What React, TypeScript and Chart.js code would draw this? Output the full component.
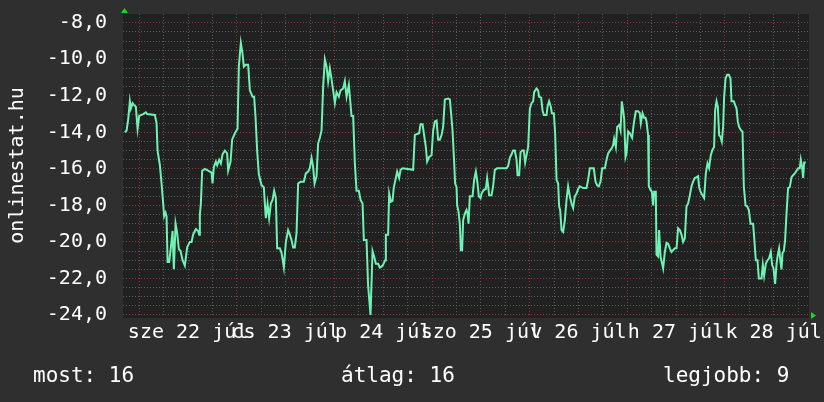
import React, { useEffect, useRef } from 'react';
import { Chart, registerables } from 'chart.js';

Chart.register(...registerables);

// ---- data (hours since 22 Jul 00:00) ----
const dayNames = ['sze', 'cs', 'p', 'szo', 'v', 'h', 'k'];
const dayNumbers = [22, 23, 24, 25, 26, 27, 28];
const monthName = 'júl';
const axisTitle = 'onlinestat.hu';

const hours = [
  -3.54, -3.12, -2.73, -2.31, -2.07, -1.65, -1.33, -0.84, -0.42, -0.02,
  0.96, 1.62, 1.94, 3.84, 4.25, 4.5, 5.07, 5.48, 5.88, 6.12,
  6.47, 6.71, 6.96, 7.35, 7.77, 8.19, 8.51, 8.93, 9.32, 9.74,
  10.16, 10.65, 11.21, 11.78, 12.44, 12.86, 13.25, 13.92, 14.48, 14.73,
  14.9, 15.15, 15.47, 16.13, 16.94, 17.36, 17.78, 18.02, 18.34, 18.84,
  19.16, 19.65, 20.07, 20.48, 21.05, 21.61, 21.86, 22.45, 22.84, 23.51,
  24.17, 24.49, 24.98, 25.4, 25.72, 26.21, 26.78, 27.2, 27.86, 28.25,
  28.6, 28.99, 29.41, 30.07, 30.64, 30.88, 31.13, 31.55, 31.94, 32.36,
  32.78, 33.17, 33.59, 33.91, 34.57, 34.99, 35.56, 36.05, 36.61, 37.03,
  37.45, 37.84, 38.26, 38.68, 39.07, 39.66, 40.47, 40.96, 41.53, 41.95,
  42.37, 42.76, 43.11, 43.6, 43.99, 44.41, 44.83, 45.22, 45.64, 46.06,
  46.45, 46.87, 47.29, 47.68, 48.1, 48.52, 49.08, 49.5, 50.14, 50.56,
  50.98, 51.54, 51.79, 52.2, 52.6, 53.02, 53.43, 54.0, 54.42, 54.91,
  55.23, 55.89, 56.28, 56.87, 57.36, 57.76, 58.18, 58.74, 59.16, 59.58,
  59.97, 60.47,
  60.64, 61.2, 61.45, 61.87, 62.28, 62.6, 63.1, 63.42, 63.91, 64.26,
  64.74, 67.35, 67.77, 68.83, 69.17, 69.66, 69.98, 70.47, 70.79, 71.29,
  71.88, 72.27, 72.69, 73.11, 73.5, 73.92, 74.34, 74.73, 75.15, 75.96,
  76.38, 76.62, 77.04, 77.36, 77.68, 78.03, 78.17, 78.52, 78.83, 79.08,
  79.4, 79.65, 80.06, 80.48, 80.73, 80.97, 81.29, 81.96, 82.35, 82.77,
  83.19, 83.51, 83.93, 84.17, 84.74, 85.23, 85.55, 85.8, 86.04, 86.63,
  87.02, 87.44, 88.0, 90.32, 90.71, 91.13, 91.55, 91.94, 92.36, 92.78,
  93.02, 93.42, 93.76, 94.15, 94.57, 94.89, 95.24, 95.63, 96.05, 96.47,
  96.86, 97.11, 97.69, 98.08, 98.33, 98.83, 99.17, 99.49, 100.15, 100.4,
  100.79, 101.21, 101.46, 101.95, 102.27, 102.62, 103.01, 103.25, 103.5, 103.85,
  104.24, 104.66, 105.07, 105.46, 105.88, 106.3, 106.69, 107.11, 107.53, 107.92,
  108.34,
  109.15, 109.99, 110.38, 110.8, 111.78, 112.2, 112.6, 113.02, 113.43, 113.83,
  114.49, 114.91, 115.3, 115.72, 116.14, 116.53, 116.78, 117.2, 117.52, 118.01,
  118.36, 118.67, 118.99, 119.24, 119.58, 119.83, 120.22, 120.64, 121.2, 121.62,
  122.11, 122.68, 123.1, 123.34, 123.76, 124.15, 124.5, 124.74, 125.13, 125.31,
  125.73, 126.05, 126.37, 126.62, 127.03, 127.2, 127.59, 127.84, 128.19, 128.44,
  128.83, 129.25, 129.67, 130.06, 130.48, 130.9, 131.7, 132.12, 132.51, 132.93,
  133.35, 133.74, 134.16, 134.58, 134.97, 135.39, 135.81, 136.2, 136.62, 137.04,
  137.43, 137.68, 138.02, 138.51, 138.91, 139.33, 139.74, 140.13, 140.55, 140.97,
  141.36, 141.61, 141.96, 142.28, 142.6, 142.95, 143.26, 143.58, 143.83, 144.18,
  144.57, 144.98, 145.4, 145.64, 146.21, 146.53, 146.88, 147.19, 147.51, 148.01,
  148.35, 148.67, 149.09, 149.48, 149.9, 150.32, 150.96, 151.2, 151.62, 152.04,
  152.36, 153.02, 153.34, 153.66, 154.08, 154.5, 154.89, 155.31, 155.63, 155.98,
  156.37, 156.72, 157.03, 157.35, 157.7, 157.94, 158.19, 158.51, 158.82, 159.17,
  159.56, 159.98, 160.4, 160.79, 161.21, 161.63, 162.02, 162.44, 162.68, 163.0,
  163.25, 163.5, 163.92,
];

const values = [
  -14.0, -13.9, -13.3, -12.3, -12.7, -12.4, -12.5, -12.6, -13.8, -13.1,
  -13.0, -12.9, -13.0, -13.05, -13.5, -15.0, -15.8, -16.8, -17.9, -18.6,
  -18.4, -18.6, -21.1, -21.1, -20.3, -19.4, -21.5, -19.0, -19.5, -20.4,
  -20.5, -21.0, -21.3, -20.3, -20.0, -20.0, -19.6, -19.3, -19.4, -19.6,
  -18.5, -17.9, -16.1, -16.0, -16.1, -16.15, -16.2, -16.8, -15.9, -15.6,
  -15.8, -15.5, -15.7, -15.2, -15.0, -15.15, -16.1, -15.6, -14.4, -14.05,
  -13.8, -10.4, -9.1, -9.7, -10.4, -10.3, -10.3, -11.7, -12.05, -12.05,
  -13.2, -15.0, -16.3, -16.9, -17.0, -17.9, -18.7, -17.9, -18.7, -17.9,
  -17.7, -17.2, -17.6, -20.35, -20.35, -20.6, -21.4, -20.0, -19.35, -19.6,
  -19.9, -20.3, -20.3, -19.5, -16.8, -16.7, -16.7, -16.25, -16.15, -15.95,
  -15.4, -15.9, -16.8, -16.4, -14.6, -14.3, -13.9, -11.5, -10.0, -10.4,
  -11.2, -10.5, -11.1, -11.7, -12.4, -11.8, -12.05, -11.7, -11.6, -11.2,
  -12.05, -11.4, -12.05, -13.1, -13.1, -15.7, -17.2, -17.2, -17.7, -17.9,
  -19.9, -19.9, -22.4, -24.0, -20.5, -20.8, -21.2, -21.2, -21.4, -21.35,
  -21.25, -21.0,
  -19.6, -19.6, -17.35, -17.8, -17.75, -17.0, -16.5, -16.15, -16.5, -16.05,
  -15.97, -16.05, -14.14, -14.05, -13.55, -13.55, -14.05, -14.8, -15.6, -15.35,
  -15.25, -13.9, -13.4, -13.35, -14.4, -14.4, -14.15, -13.7, -12.2, -12.15,
  -12.2, -12.8, -13.9, -15.3, -16.8, -17.0, -18.0, -18.35, -19.0, -20.45,
  -20.45, -18.8, -18.45, -18.25, -18.45, -19.0, -17.5, -17.5, -16.6, -16.15,
  -16.8, -17.5, -17.6, -17.35, -17.15, -17.1, -16.5, -16.95, -17.45, -17.45,
  -16.95, -16.05, -15.97, -15.97, -15.85, -15.4, -15.2, -15.0, -15.0, -15.5,
  -16.35, -16.35, -15.1, -15.0, -15.0, -15.65, -15.25, -14.8, -12.7, -12.4,
  -12.3, -11.8, -11.6, -11.7, -12.05, -12.1, -12.8, -13.05, -13.05, -12.6,
  -12.3, -12.6, -12.95, -12.95, -14.05, -16.6, -16.8, -18.05, -18.25, -19.35,
  -19.45, -18.8, -17.7, -16.95, -17.5, -17.9, -18.15, -17.5, -17.35, -17.1,
  -16.95,
  -17.05, -17.05, -16.6, -15.97, -15.97, -16.7, -16.9, -16.95, -16.7, -15.97,
  -15.97, -15.5, -15.15, -15.0, -14.9, -14.7, -14.35, -14.8, -13.7, -13.6,
  -13.9, -12.3, -12.8, -13.25, -15.35, -15.15, -13.95, -14.05, -14.3, -13.5,
  -12.85, -12.85, -12.95, -13.5, -12.95, -13.2, -13.2, -13.4, -14.15, -16.95,
  -17.15, -17.25, -18.0, -17.25, -17.25, -20.7, -20.8, -19.35, -20.8, -21.05,
  -21.45, -20.55, -20.05, -20.1, -20.35, -20.55, -20.35, -20.35, -19.25, -19.35,
  -19.6, -20.0, -19.8, -18.05, -17.9, -17.45, -16.95, -16.7, -16.5, -16.45,
  -16.4, -17.0, -17.25, -17.45, -17.6, -16.25, -15.7, -15.95, -15.25, -14.95,
  -14.8, -12.8, -12.3, -12.6, -14.15, -14.25, -14.5, -13.7, -12.05, -11.05,
  -10.85, -10.85, -11.05, -12.3, -12.3, -12.5, -12.7, -13.4, -13.7, -13.9,
  -13.95, -16.95, -18.0, -18.05, -18.25, -19.0, -19.0, -19.7, -21.0, -21.0,
  -22.0, -22.0, -21.25, -21.85, -21.2, -21.0, -20.9, -20.55, -21.25, -21.45,
  -22.3, -21.2, -20.7, -20.35, -21.1, -21.5, -20.6, -20.5, -19.9, -18.45,
  -17.05, -17.0, -16.45, -16.35, -16.25, -16.1, -15.97, -15.97, -15.5, -15.9,
  -16.5, -15.65, -15.65,
];

const legendLabels = ['most', 'átlag', 'legjobb'];
const legendValues = [16, 16, 9];

// ---- styling ----
const FONT = "'DejaVu Sans Mono', monospace";
const RED = '#8a3a3a';
const GREY = '#5a5a5a';
const LINE = '#6ff2b4';
const ARROW = '#22d422';

const decorations = {
  id: 'decorations',
  beforeDraw(chart: any) {
    const { ctx, chartArea } = chart;
    const { left, top, right, bottom } = chartArea;
    ctx.save();
    ctx.fillStyle = '#212121';
    ctx.fillRect(left, top, right - left, bottom - top + 1);
    ctx.restore();
  },
  afterDraw(chart: any) {
    const { ctx, chartArea, scales } = chart;
    const { left, top, right } = chartArea;
    const y0 = Math.round(scales.y.getPixelForValue(-24)) + 0.5;
    ctx.save();
    ctx.fillStyle = ARROW;
    ctx.beginPath();
    ctx.moveTo(left - 2, top - 1);
    ctx.lineTo(left + 5, top - 1);
    ctx.lineTo(left + 1.5, top - 6);
    ctx.closePath();
    ctx.fill();
    ctx.beginPath();
    ctx.moveTo(right + 2, y0 - 3.5);
    ctx.lineTo(right + 2, y0 + 3.5);
    ctx.lineTo(right + 7, y0);
    ctx.closePath();
    ctx.fill();
    ctx.restore();
  },
};

export default function App() {
  const canvasRef = useRef<HTMLCanvasElement | null>(null);

  useEffect(() => {
    if (!canvasRef.current) return;
    const points = hours.map((h, i) => ({ x: h, y: values[i] }));
    const chart = new Chart(canvasRef.current, {
      type: 'line',
      data: {
        datasets: [
          {
            data: points,
            borderColor: LINE,
            borderWidth: 2,
            pointRadius: 0,
            tension: 0,
            fill: false,
          },
        ],
      },
      plugins: [decorations],
      options: {
        animation: false,
        responsive: true,
        maintainAspectRatio: false,
        layout: { padding: { left: 0, right: 15, top: 14, bottom: 55 } },
        plugins: { legend: { display: false }, tooltip: { enabled: false } },
        scales: {
          x: {
            type: 'linear',
            min: -4,
            max: 164.7,
            afterBuildTicks: (s: any) => {
              const t: any[] = [];
              for (let h = 0; h <= 162; h += 6) t.push({ value: h });
              s.ticks = t;
            },
            afterFit: (s: any) => {
              s.height = 30;
              s.paddingLeft = 0;
              s.paddingRight = 0;
            },
            grid: {
              color: (c: any) => (c.tick && c.tick.value % 24 === 0 ? RED : GREY),
              lineWidth: 1,
              drawTicks: false,
            },
            border: { display: false, dash: [1, 2] },
            ticks: {
              autoSkip: false,
              maxRotation: 0,
              minRotation: 0,
              padding: 4,
              color: '#ffffff',
              font: { family: FONT, size: 20 },
              callback: (v: any) => {
                const i = (Number(v) - 12) / 24;
                return Number.isInteger(i) && i >= 0 && i < dayNames.length
                  ? `${dayNames[i]} ${dayNumbers[i]} ${monthName}`
                  : '';
              },
            },
          },
          y: {
            type: 'linear',
            min: -24.11,
            max: -7.52,
            afterBuildTicks: (s: any) => {
              const t: any[] = [];
              for (let i = 0; i <= 32; i++) t.push({ value: -24 + i * 0.5 });
              s.ticks = t;
            },
            afterFit: (s: any) => {
              s.width = 123;
              s.paddingTop = 0;
              s.paddingBottom = 0;
            },
            grid: {
              color: (c: any) => (c.tick && c.tick.value % 2 === 0 ? RED : GREY),
              lineWidth: 1,
              drawTicks: false,
            },
            border: { display: false, dash: [1, 2] },
            ticks: {
              autoSkip: false,
              padding: 16,
              color: '#ffffff',
              font: { family: FONT, size: 20 },
              callback: (v: any) =>
                Number(v) % 2 === 0 ? Number(v).toFixed(1).replace('.', ',') : '',
            },
            title: {
              display: true,
              text: axisTitle,
              color: '#ffffff',
              font: { family: FONT, size: 20 },
              padding: { top: 6, bottom: 0 },
            },
          },
        },
      },
    });
    return () => chart.destroy();
  }, []);

  const legendLeft = [33, 341, 663];

  return (
    <div
      style={{
        position: 'absolute',
        left: 0,
        top: 0,
        width: 824,
        height: 402,
        background: '#2f2f2f',
        overflow: 'hidden',
      }}
    >
      <canvas ref={canvasRef} />
      {legendLabels.map((l, i) => (
        <div
          key={l}
          style={{
            position: 'absolute',
            left: legendLeft[i],
            top: 362,
            fontFamily: FONT,
            fontSize: 21,
            lineHeight: '26px',
            color: '#ffffff',
            whiteSpace: 'pre',
          }}
        >
          {`${l}: ${legendValues[i]}`}
        </div>
      ))}
    </div>
  );
}
